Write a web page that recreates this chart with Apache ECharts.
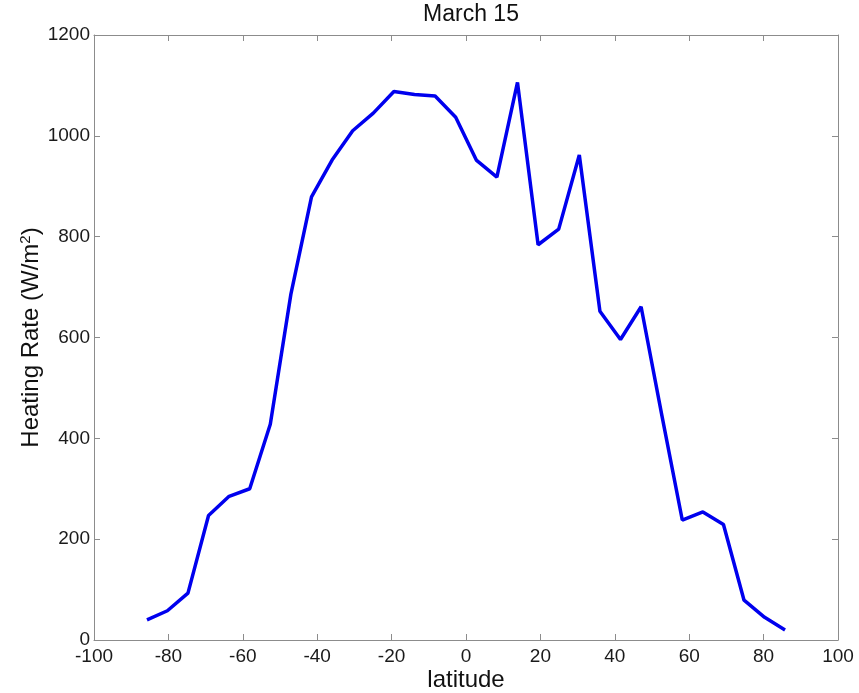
<!DOCTYPE html>
<html lang="en">
<head>
  <meta charset="UTF-8">
  <title>March 15</title>
  <style>
    html, body { margin: 0; padding: 0; background: #fff; }
    #chart { width: 859px; height: 693px; }
  </style>
</head>
<body>
  <div id="chart"></div>
  <script src="https://cdn.jsdelivr.net/npm/echarts@6/dist/echarts.min.js"></script>
  <script>
    // Gaussian latitudes (deg) and heating rate (W/m^2)
    var latitudes = [-85.76, -80.27, -74.74, -69.21, -63.68, -58.14, -52.61, -47.07,
      -41.53, -36.0, -30.46, -24.92, -19.38, -13.84, -8.3, -2.77,
      2.77, 8.3, 13.84, 19.38, 24.92, 30.46, 36.0, 41.53,
      47.07, 52.61, 58.14, 63.68, 69.21, 74.74, 80.27, 85.76];
    var heating = [40, 58, 93, 247, 285, 300, 428, 686,
      879, 952, 1010, 1045, 1088, 1082, 1079, 1037,
      952, 918, 1106, 784, 815, 962, 652, 596,
      661, 447, 238, 254, 229, 79, 45, 20];
    var xTicks = [-100, 100, 20];
    var yTicks = [0, 1200, 200];

    var font = 'Liberation Sans, Arial, sans-serif';
    var axisGray = '#8c8c8c';

    var chart = echarts.init(document.getElementById('chart'));

    function plain(v) { return String(v); }

    function xAxis(pos, labels) {
      return {
        type: 'value', position: pos,
        min: xTicks[0], max: xTicks[1], interval: xTicks[2],
        axisLine: { show: true, onZero: false, lineStyle: { color: axisGray, width: 1 } },
        axisTick: { show: true, inside: true, length: 6, lineStyle: { color: axisGray } },
        axisLabel: { show: labels, color: '#1a1a1a', fontSize: 19, fontFamily: font, margin: 7, formatter: plain },
        splitLine: { show: false }
      };
    }
    function yAxis(pos, labels) {
      return {
        type: 'value', position: pos,
        min: yTicks[0], max: yTicks[1], interval: yTicks[2],
        axisLine: { show: true, onZero: false, lineStyle: { color: axisGray, width: 1 } },
        axisTick: { show: true, inside: true, length: 6, lineStyle: { color: axisGray } },
        axisLabel: { show: labels, color: '#1a1a1a', fontSize: 19, fontFamily: font, margin: 4, formatter: plain },
        splitLine: { show: false }
      };
    }

    var xMain = xAxis('bottom', true);
    xMain.name = 'latitude';
    xMain.nameLocation = 'middle';
    xMain.nameGap = 28;
    xMain.nameMoveOverlap = false;
    xMain.nameTextStyle = { color: '#111', fontSize: 24, fontFamily: font };

    var yMain = yAxis('left', true);
    yMain.name = 'Heating Rate (W/m{sup|2})';
    yMain.nameLocation = 'middle';
    yMain.nameGap = 50;
    yMain.nameMoveOverlap = false;
    yMain.nameTextStyle = {
      color: '#111', fontSize: 24, fontFamily: font,
      rich: { sup: { fontSize: 15, verticalAlign: 'bottom', padding: [0, 0, 11, 0], fontFamily: font, color: '#111' } }
    };

    var option = {
      animation: false,
      backgroundColor: '#fff',
      title: {
        text: 'March 15', left: 466, top: -2, textAlign: 'center',
        textStyle: { color: '#111', fontSize: 23, fontWeight: 'normal', fontFamily: font }
      },
      grid: { left: 94, right: 21, top: 35, bottom: 53, containLabel: false, outerBoundsMode: 'none' },
      xAxis: [xMain, xAxis('top', false)],
      yAxis: [yMain, yAxis('right', false)],
      series: [{
        type: 'line',
        data: latitudes.map(function (lat, i) { return [lat, heating[i]]; }),
        showSymbol: false,
        lineStyle: { color: '#0000ee', width: 3.5 },
        itemStyle: { color: '#0000ee' }
      }]
    };
    chart.setOption(option);
  </script>
</body>
</html>
